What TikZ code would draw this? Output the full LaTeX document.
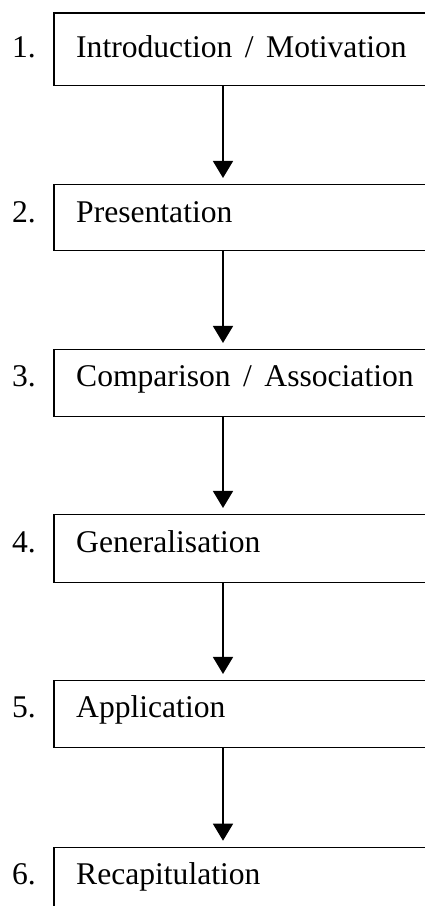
\documentclass[tikz,border=0pt]{standalone}
\usepackage{fontspec}
\setmainfont{Liberation Serif}
\usetikzlibrary{arrows.meta}
\newcommand{\slashsep}{\ \hspace{4.6pt}/\hspace{4.6pt}\ }
\begin{document}
\begin{tikzpicture}[x=1pt,y=1pt,
  stagebox/.style={draw=black, line width=1.5pt, rectangle, inner sep=0pt, anchor=north west, minimum width=375pt},
  lbl/.style={anchor=base west, inner sep=0pt, font=\fontsize{31.6}{38}\selectfont},
  num/.style={anchor=base east, inner sep=0pt, font=\fontsize{31.6}{38}\selectfont},
  arr/.style={line width=1.5pt, -{Triangle[width=20pt,length=17pt]}, shorten >=6pt}]
\useasboundingbox (0,0) rectangle (424,906);
% boxes (img y -> 906 - y)
\node[stagebox, minimum height=72.5pt] (b1) at (53,893.5) {};
\node[stagebox, minimum height=66pt]   (b2) at (53,722) {};
\node[stagebox, minimum height=67pt]   (b3) at (53,557) {};
\node[stagebox, minimum height=67.7pt] (b4) at (53,392) {};
\node[stagebox, minimum height=66.7pt] (b5) at (53,226) {};
\node[stagebox, minimum height=100pt]  (b6) at (53,59.3) {};
% texts
\node[lbl] (t1) at (76,848) {Introduction\slashsep Motivation};
\node[lbl] (t2) at (76,683) {Presentation};
\node[lbl] (t3) at (76,519) {Comparison\slashsep Association};
\node[lbl] (t4) at (76,353) {Generalisation};
\node[lbl] (t5) at (76,188) {Application};
\node[lbl] (t6) at (76,21) {Recapitulation};
\node[num] (n1) at (36,848) {1.};
\node[num] (n2) at (36,683) {2.};
\node[num] (n3) at (36,519) {3.};
\node[num] (n4) at (36,353) {4.};
\node[num] (n5) at (36,188) {5.};
\node[num] (n6) at (36,21) {6.};
% arrows
\coordinate (ax) at (223,0);
\draw[arr] (b1.south -| ax) -- (b2.north -| ax);
\draw[arr] (b2.south -| ax) -- (b3.north -| ax);
\draw[arr] (b3.south -| ax) -- (b4.north -| ax);
\draw[arr] (b4.south -| ax) -- (b5.north -| ax);
\draw[arr] (b5.south -| ax) -- (b6.north -| ax);
\end{tikzpicture}
\end{document}
